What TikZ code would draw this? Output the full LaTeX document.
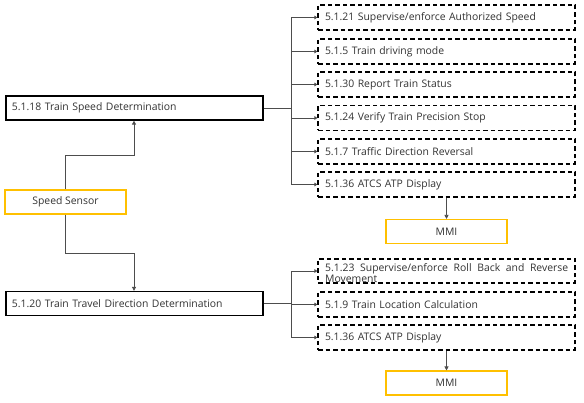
\documentclass[tikz,border=0pt]{standalone}
\usepackage{fontspec}
\setmainfont{Open Sans}
\usetikzlibrary{arrows.meta}
\definecolor{gold}{HTML}{FFC000}
\definecolor{txt}{HTML}{333333}
\definecolor{conn}{HTML}{4D4D4D}
\begin{document}
\begin{tikzpicture}[x=1pt,y=-1pt,
  every node/.style={font=\fontsize{10.4}{12.5}\selectfont, text=txt},
  solidbox/.style={draw=black, line width=1.3pt, minimum height=24pt, text width=245pt, inner xsep=6pt, align=left},
  dashbox/.style={draw=black, line width=1.1pt, dash pattern=on 4.5pt off 3pt, minimum height=25pt, text width=243pt, inner xsep=7pt, align=left},
  goldbox/.style={draw=gold, line width=1.1pt, minimum height=24pt, minimum width=121pt, align=center},
  conn/.style={draw=conn, line width=0.8pt},
  arr/.style={conn, -{Triangle[length=4pt,width=4pt]}},
  arrs/.style={conn, -{Triangle[length=3pt,width=3.5pt]}}
]
\useasboundingbox (0,0) rectangle (584,403);
\fill[white] (0,0) rectangle (584,403);

% left boxes
\node[solidbox] (a) at (134.5,108) {5.1.18 Train Speed Determination};
\node[solidbox] (b) at (134.5,303.5) {5.1.20 Train Travel Direction Determination};
\node[goldbox] (s) at (65.5,202) {Speed Sensor};

% top group
\node[dashbox] (d1) at (446.5,17.5) {5.1.21 Supervise/enforce Authorized Speed};
\node[dashbox] (d2) at (446.5,51.5) {5.1.5 Train driving mode};
\node[dashbox] (d3) at (446.5,84.5) {5.1.30 Report Train Status};
\node[dashbox] (d4) at (446.5,118) {5.1.24 Verify Train Precision Stop};
\node[dashbox] (d5) at (446.5,151.5) {5.1.7 Traffic Direction Reversal};
\node[dashbox] (d6) at (446.5,184.5) {5.1.36 ATCS ATP Display};
\node[goldbox] (m1) at (446.5,231.5) {MMI};

% bottom group
\node[dashbox, minimum height=24pt] (d7) at (446.5,271) {};
\node[anchor=north west, inner sep=0pt, text width=243pt, align=left,
      font=\fontsize{10.4}{10.5}\selectfont] (d7t) at (325,263.5)
  {5.1.23\hfill Supervise/enforce\hfill Roll\hfill Back\hfill and\hfill Reverse\\Movement};
\node[dashbox] (d8) at (446.5,304.5) {5.1.9 Train Location Calculation};
\node[dashbox] (d9) at (446.5,337.5) {5.1.36 ATCS ATP Display};
\node[goldbox] (m2) at (446.5,383) {MMI};

% sensor connectors
\coordinate (k1) at (134,155);
\coordinate (k2) at (134,253);
\draw[arr] (s.north) |- (k1) -- (a.south -| k1);
\draw[arr] (s.south) |- (k2) -- (b.north -| k2);

% top bus
\coordinate (ba) at (291,108);
\draw[conn] (a.east) -- (ba);
\foreach \n in {d1,d2,d3,d4,d5,d6}
  \draw[arrs] (ba) |- (\n.west);
\draw[arr] (d6.south) -- (m1.north);

% bottom bus
\coordinate (bb) at (291,303.5);
\draw[conn] (b.east) -- (bb);
\foreach \n in {d7,d8,d9}
  \draw[arrs] (bb) |- (\n.west);
\draw[arr] (d9.south) -- (m2.north);
\end{tikzpicture}
\end{document}
